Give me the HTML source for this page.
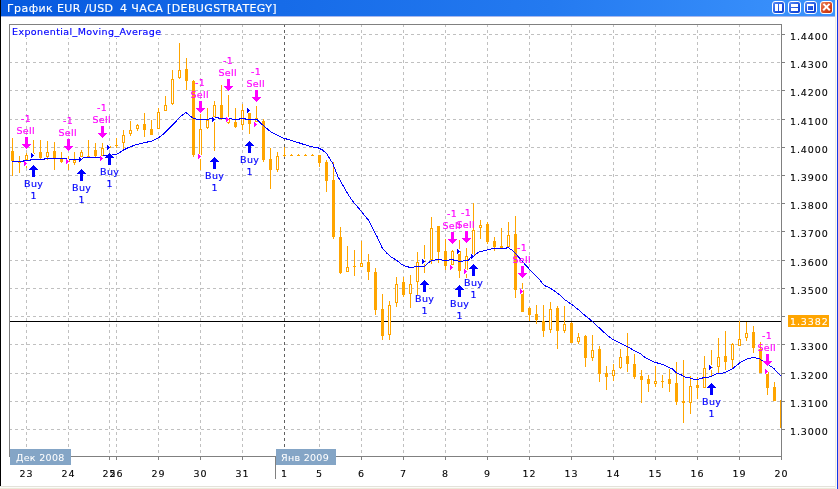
<!DOCTYPE html>
<html><head><meta charset="utf-8"><style>
html,body{margin:0;padding:0;}
body{width:838px;height:489px;position:relative;overflow:hidden;background:#fff;}
#lb{position:absolute;left:0;top:0;width:1px;height:486px;background:#000;}
#tb{position:absolute;left:1px;top:0;width:834px;height:16px;background:linear-gradient(to right,#0659DF 0px,#166BE8 280px,#247AF0 550px,#378EFA 770px,#3C93FC 834px);}
#tbb{position:absolute;left:1px;top:16px;width:834px;height:1px;background:#A9B8EC;}
.btn{position:absolute;top:1px;width:11px;height:11px;border:1px solid #fff;border-radius:3px;background:linear-gradient(135deg,#5C8EF4,#1C52E0 60%,#0A3ACC);}
.btn i{position:absolute;background:#fff;display:block;}
#rb1{position:absolute;left:835px;top:0;width:1px;height:489px;background:#EFEDE2;}
#rb2{position:absolute;left:836px;top:0;width:1px;height:489px;background:#FBFBF8;}
#rb3{position:absolute;left:837px;top:0;width:1px;height:489px;background:#1238E8;}
#bb1{position:absolute;left:0;top:486px;width:835px;height:1px;background:#E4E2DA;}
#bb2{position:absolute;left:0;top:487px;width:835px;height:1px;background:#FAFAF7;}
#bb3{position:absolute;left:0;top:488px;width:835px;height:1px;background:#ECE9D8;}
svg{position:absolute;left:0;top:0;}
svg text{font-family:"DejaVu Sans",sans-serif;font-size:9.5px;letter-spacing:0.4px;stroke-width:0.15px;}
svg .tt text{font-size:11px;}
svg text.num{font-size:9.5px;letter-spacing:0.9px;stroke-width:0.1px;}
svg text.mon{letter-spacing:0.3px;stroke-width:0.05px;}
</style></head><body>
<div id="lb"></div>
<div id="tb"></div><div id="tbb"></div>
<div class="btn" style="left:772px"><i style="left:2px;top:2px;width:3px;height:7px"></i><i style="left:6px;top:2px;width:3px;height:7px"></i></div><div class="btn" style="left:788px"><i style="left:2px;top:2px;width:7px;height:3px"></i><i style="left:2px;top:6px;width:7px;height:3px"></i></div><div class="btn" style="left:804px"><i style="left:2px;top:2px;width:7px;height:7px;background:none;border:1px solid #fff;box-sizing:border-box;border-width:2px 1px 1px 1px"></i></div><div class="btn" style="left:820px;background:linear-gradient(135deg,#E8825C,#D8461E 60%,#C0300A)"><i style="left:1px;top:4.2px;width:9px;height:2.4px;transform:rotate(45deg)"></i><i style="left:1px;top:4.2px;width:9px;height:2.4px;transform:rotate(-45deg)"></i></div>
<div id="rb1"></div><div id="rb2"></div><div id="rb3"></div>
<div id="bb1"></div><div id="bb2"></div><div id="bb3"></div>
<svg width="838" height="489" viewBox="0 0 838 489" shape-rendering="crispEdges">
<line x1="9" y1="34.5" x2="781" y2="34.5" stroke="#C0C0C0" stroke-dasharray="3 3"/>
<line x1="9" y1="62.5" x2="781" y2="62.5" stroke="#C0C0C0" stroke-dasharray="3 3"/>
<line x1="9" y1="90.5" x2="781" y2="90.5" stroke="#C0C0C0" stroke-dasharray="3 3"/>
<line x1="9" y1="119.5" x2="781" y2="119.5" stroke="#C0C0C0" stroke-dasharray="3 3"/>
<line x1="9" y1="147.5" x2="781" y2="147.5" stroke="#C0C0C0" stroke-dasharray="3 3"/>
<line x1="9" y1="175.5" x2="781" y2="175.5" stroke="#C0C0C0" stroke-dasharray="3 3"/>
<line x1="9" y1="203.5" x2="781" y2="203.5" stroke="#C0C0C0" stroke-dasharray="3 3"/>
<line x1="9" y1="231.5" x2="781" y2="231.5" stroke="#C0C0C0" stroke-dasharray="3 3"/>
<line x1="9" y1="260.5" x2="781" y2="260.5" stroke="#C0C0C0" stroke-dasharray="3 3"/>
<line x1="9" y1="288.5" x2="781" y2="288.5" stroke="#C0C0C0" stroke-dasharray="3 3"/>
<line x1="9" y1="316.5" x2="781" y2="316.5" stroke="#C0C0C0" stroke-dasharray="3 3"/>
<line x1="9" y1="344.5" x2="781" y2="344.5" stroke="#C0C0C0" stroke-dasharray="3 3"/>
<line x1="9" y1="373.5" x2="781" y2="373.5" stroke="#C0C0C0" stroke-dasharray="3 3"/>
<line x1="9" y1="401.5" x2="781" y2="401.5" stroke="#C0C0C0" stroke-dasharray="3 3"/>
<line x1="9" y1="429.5" x2="781" y2="429.5" stroke="#C0C0C0" stroke-dasharray="3 3"/>
<line x1="26.5" y1="24" x2="26.5" y2="456" stroke="#C0C0C0" stroke-dasharray="3 3"/>
<line x1="68.5" y1="24" x2="68.5" y2="456" stroke="#C0C0C0" stroke-dasharray="3 3"/>
<line x1="109.5" y1="24" x2="109.5" y2="456" stroke="#C0C0C0" stroke-dasharray="3 3"/>
<line x1="116.5" y1="24" x2="116.5" y2="456" stroke="#C0C0C0" stroke-dasharray="3 3"/>
<line x1="158.5" y1="24" x2="158.5" y2="456" stroke="#C0C0C0" stroke-dasharray="3 3"/>
<line x1="200.5" y1="24" x2="200.5" y2="456" stroke="#C0C0C0" stroke-dasharray="3 3"/>
<line x1="242.5" y1="24" x2="242.5" y2="456" stroke="#C0C0C0" stroke-dasharray="3 3"/>
<line x1="284.5" y1="24" x2="284.5" y2="456" stroke="#606060" stroke-dasharray="3 3"/>
<line x1="319.5" y1="24" x2="319.5" y2="456" stroke="#C0C0C0" stroke-dasharray="3 3"/>
<line x1="361.5" y1="24" x2="361.5" y2="456" stroke="#C0C0C0" stroke-dasharray="3 3"/>
<line x1="403.5" y1="24" x2="403.5" y2="456" stroke="#C0C0C0" stroke-dasharray="3 3"/>
<line x1="445.5" y1="24" x2="445.5" y2="456" stroke="#C0C0C0" stroke-dasharray="3 3"/>
<line x1="487.5" y1="24" x2="487.5" y2="456" stroke="#C0C0C0" stroke-dasharray="3 3"/>
<line x1="529.5" y1="24" x2="529.5" y2="456" stroke="#C0C0C0" stroke-dasharray="3 3"/>
<line x1="571.5" y1="24" x2="571.5" y2="456" stroke="#C0C0C0" stroke-dasharray="3 3"/>
<line x1="613.5" y1="24" x2="613.5" y2="456" stroke="#C0C0C0" stroke-dasharray="3 3"/>
<line x1="655.5" y1="24" x2="655.5" y2="456" stroke="#C0C0C0" stroke-dasharray="3 3"/>
<line x1="697.5" y1="24" x2="697.5" y2="456" stroke="#C0C0C0" stroke-dasharray="3 3"/>
<line x1="739.5" y1="24" x2="739.5" y2="456" stroke="#C0C0C0" stroke-dasharray="3 3"/>
<line x1="781.5" y1="24" x2="781.5" y2="456" stroke="#C0C0C0" stroke-dasharray="3 3"/>
<rect x="10" y="321" width="771" height="1" fill="#000"/>
<clipPath id="cp"><rect x="10" y="25" width="771" height="431"/></clipPath>
<g fill="#FFA500" clip-path="url(#cp)"><rect x="12" y="138" width="1" height="38"/><rect x="11" y="151" width="3" height="10"/><rect x="19" y="156" width="1" height="17"/><rect x="18" y="162" width="3" height="1"/><rect x="26" y="153" width="1" height="15"/><rect x="25" y="155" width="3" height="5"/><rect x="26" y="156" width="1" height="3" fill="#fff"/><rect x="33" y="140" width="1" height="14"/><rect x="32" y="153" width="3" height="1"/><rect x="40" y="140" width="1" height="20"/><rect x="39" y="152" width="3" height="6"/><rect x="47" y="141" width="1" height="19"/><rect x="46" y="152" width="3" height="5"/><rect x="47" y="153" width="1" height="3" fill="#fff"/><rect x="54" y="142" width="1" height="28"/><rect x="53" y="151" width="3" height="7"/><rect x="61" y="152" width="1" height="11"/><rect x="60" y="158" width="3" height="4"/><rect x="68" y="156" width="1" height="14"/><rect x="67" y="160" width="3" height="2"/><rect x="74" y="152" width="1" height="13"/><rect x="73" y="160" width="3" height="3"/><rect x="74" y="161" width="1" height="1" fill="#fff"/><rect x="81" y="150" width="1" height="10"/><rect x="80" y="152" width="3" height="5"/><rect x="81" y="153" width="1" height="3" fill="#fff"/><rect x="88" y="140" width="1" height="17"/><rect x="87" y="156" width="3" height="1"/><rect x="95" y="143" width="1" height="15"/><rect x="94" y="150" width="3" height="6"/><rect x="102" y="143" width="1" height="15"/><rect x="101" y="148" width="3" height="8"/><rect x="102" y="149" width="1" height="6" fill="#fff"/><rect x="109" y="146" width="1" height="2"/><rect x="108" y="146" width="3" height="2"/><rect x="116" y="138" width="1" height="10"/><rect x="115" y="145" width="3" height="1"/><rect x="123" y="130" width="1" height="20"/><rect x="122" y="135" width="3" height="8"/><rect x="123" y="136" width="1" height="6" fill="#fff"/><rect x="130" y="121" width="1" height="15"/><rect x="129" y="130" width="3" height="4"/><rect x="130" y="131" width="1" height="2" fill="#fff"/><rect x="137" y="124" width="1" height="7"/><rect x="136" y="125" width="3" height="4"/><rect x="137" y="126" width="1" height="2" fill="#fff"/><rect x="144" y="113" width="1" height="24"/><rect x="143" y="124" width="3" height="6"/><rect x="151" y="120" width="1" height="15"/><rect x="150" y="129" width="3" height="6"/><rect x="158" y="108" width="1" height="21"/><rect x="157" y="112" width="3" height="17"/><rect x="158" y="113" width="1" height="15" fill="#fff"/><rect x="165" y="96" width="1" height="15"/><rect x="164" y="105" width="3" height="6"/><rect x="165" y="106" width="1" height="4" fill="#fff"/><rect x="172" y="70" width="1" height="35"/><rect x="171" y="79" width="3" height="25"/><rect x="172" y="80" width="1" height="23" fill="#fff"/><rect x="179" y="43" width="1" height="36"/><rect x="178" y="70" width="3" height="8"/><rect x="179" y="71" width="1" height="6" fill="#fff"/><rect x="186" y="58" width="1" height="32"/><rect x="185" y="69" width="3" height="12"/><rect x="193" y="80" width="1" height="77"/><rect x="192" y="81" width="3" height="74"/><rect x="200" y="114" width="1" height="56"/><rect x="199" y="129" width="3" height="26"/><rect x="200" y="130" width="1" height="24" fill="#fff"/><rect x="207" y="108" width="1" height="21"/><rect x="206" y="120" width="3" height="8"/><rect x="207" y="121" width="1" height="6" fill="#fff"/><rect x="214" y="101" width="1" height="50"/><rect x="213" y="105" width="3" height="12"/><rect x="214" y="106" width="1" height="10" fill="#fff"/><rect x="221" y="85" width="1" height="35"/><rect x="220" y="105" width="3" height="14"/><rect x="228" y="95" width="1" height="29"/><rect x="227" y="118" width="3" height="5"/><rect x="228" y="119" width="1" height="3" fill="#fff"/><rect x="235" y="108" width="1" height="20"/><rect x="234" y="122" width="3" height="5"/><rect x="242" y="104" width="1" height="26"/><rect x="241" y="110" width="3" height="15"/><rect x="242" y="111" width="1" height="13" fill="#fff"/><rect x="249" y="108" width="1" height="26"/><rect x="248" y="113" width="3" height="11"/><rect x="256" y="106" width="1" height="16"/><rect x="255" y="118" width="3" height="4"/><rect x="256" y="119" width="1" height="2" fill="#fff"/><rect x="263" y="119" width="1" height="43"/><rect x="262" y="121" width="3" height="39"/><rect x="270" y="148" width="1" height="41"/><rect x="269" y="159" width="3" height="11"/><rect x="277" y="152" width="1" height="20"/><rect x="276" y="156" width="3" height="14"/><rect x="277" y="157" width="1" height="12" fill="#fff"/><rect x="284" y="147" width="1" height="10"/><rect x="283" y="155" width="3" height="1"/><rect x="291" y="154" width="1" height="2"/><rect x="290" y="155" width="3" height="1"/><rect x="298" y="154" width="1" height="2"/><rect x="297" y="155" width="3" height="1"/><rect x="305" y="154" width="1" height="2"/><rect x="304" y="155" width="3" height="1"/><rect x="312" y="154" width="1" height="2"/><rect x="311" y="155" width="3" height="1"/><rect x="319" y="155" width="1" height="12"/><rect x="318" y="155" width="3" height="8"/><rect x="326" y="160" width="1" height="32"/><rect x="325" y="162" width="3" height="19"/><rect x="333" y="162" width="1" height="77"/><rect x="332" y="180" width="3" height="57"/><rect x="340" y="227" width="1" height="47"/><rect x="339" y="237" width="3" height="36"/><rect x="347" y="246" width="1" height="26"/><rect x="346" y="267" width="3" height="5"/><rect x="347" y="268" width="1" height="3" fill="#fff"/><rect x="354" y="250" width="1" height="26"/><rect x="353" y="266" width="3" height="1"/><rect x="361" y="241" width="1" height="26"/><rect x="360" y="263" width="3" height="4"/><rect x="361" y="264" width="1" height="2" fill="#fff"/><rect x="368" y="254" width="1" height="26"/><rect x="367" y="262" width="3" height="10"/><rect x="375" y="268" width="1" height="47"/><rect x="374" y="272" width="3" height="38"/><rect x="382" y="294" width="1" height="46"/><rect x="381" y="309" width="3" height="27"/><rect x="389" y="301" width="1" height="39"/><rect x="388" y="305" width="3" height="30"/><rect x="389" y="306" width="1" height="28" fill="#fff"/><rect x="396" y="277" width="1" height="30"/><rect x="395" y="284" width="3" height="19"/><rect x="396" y="285" width="1" height="17" fill="#fff"/><rect x="403" y="277" width="1" height="20"/><rect x="402" y="282" width="3" height="13"/><rect x="410" y="275" width="1" height="33"/><rect x="409" y="284" width="3" height="10"/><rect x="410" y="285" width="1" height="8" fill="#fff"/><rect x="417" y="252" width="1" height="43"/><rect x="416" y="262" width="3" height="20"/><rect x="417" y="263" width="1" height="18" fill="#fff"/><rect x="424" y="245" width="1" height="28"/><rect x="423" y="261" width="3" height="1"/><rect x="431" y="217" width="1" height="47"/><rect x="430" y="228" width="3" height="32"/><rect x="431" y="229" width="1" height="30" fill="#fff"/><rect x="438" y="226" width="1" height="37"/><rect x="437" y="226" width="3" height="26"/><rect x="445" y="239" width="1" height="31"/><rect x="444" y="251" width="3" height="15"/><rect x="452" y="250" width="1" height="16"/><rect x="451" y="251" width="3" height="14"/><rect x="452" y="252" width="1" height="12" fill="#fff"/><rect x="459" y="240" width="1" height="38"/><rect x="458" y="251" width="3" height="20"/><rect x="466" y="248" width="1" height="30"/><rect x="465" y="256" width="3" height="14"/><rect x="466" y="257" width="1" height="12" fill="#fff"/><rect x="473" y="203" width="1" height="53"/><rect x="472" y="230" width="3" height="26"/><rect x="473" y="231" width="1" height="24" fill="#fff"/><rect x="480" y="220" width="1" height="19"/><rect x="479" y="225" width="3" height="3"/><rect x="480" y="226" width="1" height="1" fill="#fff"/><rect x="487" y="222" width="1" height="22"/><rect x="486" y="224" width="3" height="18"/><rect x="494" y="237" width="1" height="14"/><rect x="493" y="241" width="3" height="6"/><rect x="501" y="228" width="1" height="21"/><rect x="500" y="246" width="3" height="2"/><rect x="508" y="222" width="1" height="26"/><rect x="507" y="235" width="3" height="12"/><rect x="508" y="236" width="1" height="10" fill="#fff"/><rect x="515" y="216" width="1" height="82"/><rect x="514" y="234" width="3" height="56"/><rect x="522" y="283" width="1" height="29"/><rect x="521" y="290" width="3" height="22"/><rect x="529" y="307" width="1" height="14"/><rect x="528" y="308" width="3" height="7"/><rect x="536" y="305" width="1" height="19"/><rect x="535" y="314" width="3" height="6"/><rect x="543" y="305" width="1" height="32"/><rect x="542" y="321" width="3" height="10"/><rect x="550" y="302" width="1" height="31"/><rect x="549" y="309" width="3" height="21"/><rect x="550" y="310" width="1" height="19" fill="#fff"/><rect x="557" y="306" width="1" height="43"/><rect x="556" y="308" width="3" height="23"/><rect x="564" y="306" width="1" height="27"/><rect x="563" y="324" width="3" height="7"/><rect x="564" y="325" width="1" height="5" fill="#fff"/><rect x="571" y="322" width="1" height="21"/><rect x="570" y="323" width="3" height="20"/><rect x="578" y="333" width="1" height="11"/><rect x="577" y="337" width="3" height="5"/><rect x="578" y="338" width="1" height="3" fill="#fff"/><rect x="585" y="335" width="1" height="32"/><rect x="584" y="336" width="3" height="22"/><rect x="592" y="335" width="1" height="26"/><rect x="591" y="350" width="3" height="8"/><rect x="592" y="351" width="1" height="6" fill="#fff"/><rect x="599" y="346" width="1" height="36"/><rect x="598" y="349" width="3" height="25"/><rect x="606" y="366" width="1" height="24"/><rect x="605" y="373" width="3" height="4"/><rect x="613" y="364" width="1" height="17"/><rect x="612" y="370" width="3" height="6"/><rect x="613" y="371" width="1" height="4" fill="#fff"/><rect x="620" y="349" width="1" height="20"/><rect x="619" y="357" width="3" height="11"/><rect x="620" y="358" width="1" height="9" fill="#fff"/><rect x="627" y="333" width="1" height="39"/><rect x="626" y="356" width="3" height="8"/><rect x="634" y="354" width="1" height="25"/><rect x="633" y="364" width="3" height="13"/><rect x="641" y="370" width="1" height="33"/><rect x="640" y="376" width="3" height="4"/><rect x="648" y="375" width="1" height="17"/><rect x="647" y="379" width="3" height="5"/><rect x="655" y="366" width="1" height="21"/><rect x="654" y="381" width="3" height="3"/><rect x="655" y="382" width="1" height="1" fill="#fff"/><rect x="662" y="375" width="1" height="13"/><rect x="661" y="381" width="3" height="1"/><rect x="669" y="369" width="1" height="23"/><rect x="668" y="379" width="3" height="5"/><rect x="676" y="362" width="1" height="43"/><rect x="675" y="383" width="3" height="19"/><rect x="683" y="360" width="1" height="63"/><rect x="682" y="401" width="3" height="2"/><rect x="690" y="376" width="1" height="38"/><rect x="689" y="386" width="3" height="17"/><rect x="690" y="387" width="1" height="15" fill="#fff"/><rect x="697" y="377" width="1" height="22"/><rect x="696" y="385" width="3" height="3"/><rect x="704" y="356" width="1" height="32"/><rect x="703" y="368" width="3" height="20"/><rect x="704" y="369" width="1" height="18" fill="#fff"/><rect x="711" y="350" width="1" height="26"/><rect x="710" y="367" width="3" height="1"/><rect x="718" y="338" width="1" height="35"/><rect x="717" y="357" width="3" height="10"/><rect x="718" y="358" width="1" height="8" fill="#fff"/><rect x="725" y="331" width="1" height="39"/><rect x="724" y="356" width="3" height="6"/><rect x="732" y="343" width="1" height="25"/><rect x="731" y="344" width="3" height="16"/><rect x="732" y="345" width="1" height="14" fill="#fff"/><rect x="739" y="321" width="1" height="25"/><rect x="738" y="339" width="3" height="7"/><rect x="739" y="340" width="1" height="5" fill="#fff"/><rect x="746" y="322" width="1" height="19"/><rect x="745" y="333" width="3" height="5"/><rect x="746" y="334" width="1" height="3" fill="#fff"/><rect x="753" y="326" width="1" height="27"/><rect x="752" y="332" width="3" height="16"/><rect x="760" y="342" width="1" height="31"/><rect x="759" y="349" width="3" height="24"/><rect x="767" y="371" width="1" height="24"/><rect x="766" y="372" width="3" height="16"/><rect x="774" y="382" width="1" height="19"/><rect x="773" y="387" width="3" height="14"/><rect x="781" y="400" width="1" height="28"/><rect x="780" y="400" width="3" height="28"/></g>
<polyline points="12.0,161.5 23.0,161.5 23.5,160.5 30.0,160.5 30.5,159.5 44.0,159.5 44.5,158.5 64.8,158.5 69.4,159.5 78.4,159.5 85.0,157.5 100.0,157.5 103.4,156.0 105.0,155.5 111.8,155.0 117.6,153.9 123.5,150.0 128.5,147.5 135.2,145.0 136.7,144.5 142.5,143.2 151.7,141.0 157.6,138.4 164.2,133.4 168.4,129.2 174.3,123.4 180.1,116.7 186.0,112.5 190.1,115.9 193.5,118.4 197.7,119.5 208.8,119.5 209.3,118.5 214.5,118.5 215.0,117.5 218.0,117.5 218.5,118.5 231.7,118.5 232.2,119.5 239.3,119.5 239.8,118.5 245.5,118.5 246.0,119.5 256.8,119.5 265.0,127.1 271.3,132.1 277.5,135.4 284.2,138.4 290.1,140.0 296.7,142.1 304.3,144.6 311.8,146.7 318.5,148.0 322.6,150.1 326.8,153.8 329.3,158.0 332.7,163.4 337.8,176.4 347.6,193.6 352.5,200.9 360.7,210.7 368.9,220.6 373.0,228.7 377.4,237.4 382.0,247.5 386.6,253.0 391.2,257.1 396.7,260.4 401.3,264.0 405.9,266.3 409.6,267.3 413.2,267.3 415.1,266.5 424.3,266.5 427.0,264.0 431.2,260.8 435.3,259.9 436.0,259.5 441.8,259.5 442.3,260.5 448.5,260.5 449.4,259.5 453.5,259.5 454.0,260.5 457.7,260.5 458.2,261.5 462.7,261.5 463.2,260.5 468.6,260.5 469.4,258.5 473.6,256.0 478.6,252.2 484.5,250.5 491.1,249.0 502.8,248.7 506.0,248.2 508.0,247.4 512.3,250.4 516.0,254.1 520.9,259.7 525.8,265.2 531.9,271.9 539.3,279.3 544.2,285.5 549.1,287.3 555.3,291.6 560.2,295.3 565.4,300.1 572.1,304.8 577.5,308.9 584.3,314.9 592.4,321.4 600.5,329.1 607.2,335.2 612.6,339.5 619.4,342.6 627.5,346.7 635.6,351.4 640.8,354.1 646.5,358.4 651.3,360.8 655.1,362.4 661.8,364.1 668.5,367.4 672.3,368.9 676.1,372.7 680.9,374.6 684.7,377.0 689.5,377.9 694.2,379.4 698.1,379.4 702.8,377.9 708.6,377.0 712.6,375.8 717.1,373.5 722.0,373.2 725.4,372.2 732.0,369.2 739.6,363.0 747.1,358.8 752.9,357.5 758.8,358.4 762.1,360.5 768.8,365.0 773.8,368.4 778.0,373.0 781.0,376.3" fill="none" stroke="#0000FF" stroke-width="1"/>
<rect x="31" y="153" width="3" height="5" fill="#fff"/><path d="M31 153h1v1h1v1h1v1h-1v1h-1v1h-1z" fill="#0000FF"/>
<rect x="79" y="157" width="3" height="5" fill="#fff"/><path d="M79 157h1v1h1v1h1v1h-1v1h-1v1h-1z" fill="#0000FF"/>
<rect x="107" y="145" width="3" height="5" fill="#fff"/><path d="M107 145h1v1h1v1h1v1h-1v1h-1v1h-1z" fill="#0000FF"/>
<rect x="212" y="117" width="3" height="5" fill="#fff"/><path d="M212 117h1v1h1v1h1v1h-1v1h-1v1h-1z" fill="#0000FF"/>
<rect x="247" y="108" width="3" height="5" fill="#fff"/><path d="M247 108h1v1h1v1h1v1h-1v1h-1v1h-1z" fill="#0000FF"/>
<rect x="422" y="259" width="3" height="5" fill="#fff"/><path d="M422 259h1v1h1v1h1v1h-1v1h-1v1h-1z" fill="#0000FF"/>
<rect x="457" y="249" width="3" height="5" fill="#fff"/><path d="M457 249h1v1h1v1h1v1h-1v1h-1v1h-1z" fill="#0000FF"/>
<rect x="471" y="254" width="3" height="5" fill="#fff"/><path d="M471 254h1v1h1v1h1v1h-1v1h-1v1h-1z" fill="#0000FF"/>
<rect x="709" y="365" width="3" height="5" fill="#fff"/><path d="M709 365h1v1h1v1h1v1h-1v1h-1v1h-1z" fill="#0000FF"/>
<rect x="24" y="161" width="3" height="5" fill="#fff"/><path d="M24 161h1v1h1v1h1v1h-1v1h-1v1h-1z" fill="#FF00FF"/>
<rect x="66" y="159" width="3" height="5" fill="#fff"/><path d="M66 159h1v1h1v1h1v1h-1v1h-1v1h-1z" fill="#FF00FF"/>
<rect x="100" y="156" width="3" height="5" fill="#fff"/><path d="M100 156h1v1h1v1h1v1h-1v1h-1v1h-1z" fill="#FF00FF"/>
<rect x="198" y="154" width="3" height="5" fill="#fff"/><path d="M198 154h1v1h1v1h1v1h-1v1h-1v1h-1z" fill="#FF00FF"/>
<rect x="226" y="117" width="3" height="5" fill="#fff"/><path d="M226 117h1v1h1v1h1v1h-1v1h-1v1h-1z" fill="#FF00FF"/>
<rect x="254" y="122" width="3" height="5" fill="#fff"/><path d="M254 122h1v1h1v1h1v1h-1v1h-1v1h-1z" fill="#FF00FF"/>
<rect x="450" y="265" width="3" height="5" fill="#fff"/><path d="M450 265h1v1h1v1h1v1h-1v1h-1v1h-1z" fill="#FF00FF"/>
<rect x="464" y="269" width="3" height="5" fill="#fff"/><path d="M464 269h1v1h1v1h1v1h-1v1h-1v1h-1z" fill="#FF00FF"/>
<rect x="520" y="289" width="3" height="5" fill="#fff"/><path d="M520 289h1v1h1v1h1v1h-1v1h-1v1h-1z" fill="#FF00FF"/>
<rect x="765" y="369" width="3" height="5" fill="#fff"/><path d="M765 369h1v1h1v1h1v1h-1v1h-1v1h-1z" fill="#FF00FF"/>
<rect x="25" y="137" width="3" height="7" fill="#FF00FF"/>
<polygon points="22.0,144 31.0,144 26.5,149" fill="#FF00FF"/>
<text x="25.8" y="134" text-anchor="middle" fill="#FF00FF" stroke="#FF00FF">Sell</text>
<text x="26.2" y="122" text-anchor="middle" fill="#FF00FF" stroke="#FF00FF">-1</text>
<rect x="67" y="139" width="3" height="7" fill="#FF00FF"/>
<polygon points="64.0,146 73.0,146 68.5,151" fill="#FF00FF"/>
<text x="67.8" y="136" text-anchor="middle" fill="#FF00FF" stroke="#FF00FF">Sell</text>
<text x="68.2" y="124" text-anchor="middle" fill="#FF00FF" stroke="#FF00FF">-1</text>
<rect x="101" y="126" width="3" height="7" fill="#FF00FF"/>
<polygon points="98.0,133 107.0,133 102.5,138" fill="#FF00FF"/>
<text x="101.8" y="123" text-anchor="middle" fill="#FF00FF" stroke="#FF00FF">Sell</text>
<text x="102.2" y="111" text-anchor="middle" fill="#FF00FF" stroke="#FF00FF">-1</text>
<rect x="199" y="101" width="3" height="7" fill="#FF00FF"/>
<polygon points="196.0,108 205.0,108 200.5,113" fill="#FF00FF"/>
<text x="199.8" y="98" text-anchor="middle" fill="#FF00FF" stroke="#FF00FF">Sell</text>
<text x="200.2" y="86" text-anchor="middle" fill="#FF00FF" stroke="#FF00FF">-1</text>
<rect x="227" y="79" width="3" height="7" fill="#FF00FF"/>
<polygon points="224.0,86 233.0,86 228.5,91" fill="#FF00FF"/>
<text x="227.8" y="76" text-anchor="middle" fill="#FF00FF" stroke="#FF00FF">Sell</text>
<text x="228.2" y="64" text-anchor="middle" fill="#FF00FF" stroke="#FF00FF">-1</text>
<rect x="255" y="90" width="3" height="7" fill="#FF00FF"/>
<polygon points="252.0,97 261.0,97 256.5,102" fill="#FF00FF"/>
<text x="255.8" y="87" text-anchor="middle" fill="#FF00FF" stroke="#FF00FF">Sell</text>
<text x="256.2" y="75" text-anchor="middle" fill="#FF00FF" stroke="#FF00FF">-1</text>
<rect x="451" y="232" width="3" height="7" fill="#FF00FF"/>
<polygon points="448.0,239 457.0,239 452.5,244" fill="#FF00FF"/>
<text x="451.8" y="229" text-anchor="middle" fill="#FF00FF" stroke="#FF00FF">Sell</text>
<text x="452.2" y="217" text-anchor="middle" fill="#FF00FF" stroke="#FF00FF">-1</text>
<rect x="465" y="231" width="3" height="7" fill="#FF00FF"/>
<polygon points="462.0,238 471.0,238 466.5,243" fill="#FF00FF"/>
<text x="465.8" y="228" text-anchor="middle" fill="#FF00FF" stroke="#FF00FF">Sell</text>
<text x="466.2" y="216" text-anchor="middle" fill="#FF00FF" stroke="#FF00FF">-1</text>
<rect x="521" y="266" width="3" height="7" fill="#FF00FF"/>
<polygon points="518.0,273 527.0,273 522.5,278" fill="#FF00FF"/>
<text x="521.8" y="263" text-anchor="middle" fill="#FF00FF" stroke="#FF00FF">Sell</text>
<text x="522.2" y="251" text-anchor="middle" fill="#FF00FF" stroke="#FF00FF">-1</text>
<rect x="766" y="354" width="3" height="7" fill="#FF00FF"/>
<polygon points="763.0,361 772.0,361 767.5,366" fill="#FF00FF"/>
<text x="766.8" y="351" text-anchor="middle" fill="#FF00FF" stroke="#FF00FF">Sell</text>
<text x="767.2" y="339" text-anchor="middle" fill="#FF00FF" stroke="#FF00FF">-1</text>
<polygon points="33.5,165 29.0,170 38.0,170" fill="#0000FF"/>
<rect x="32" y="170" width="3" height="7" fill="#0000FF"/>
<text x="33.7" y="187" text-anchor="middle" fill="#0000FF" stroke="#0000FF">Buy</text>
<text x="33.7" y="199" text-anchor="middle" fill="#0000FF" stroke="#0000FF">1</text>
<polygon points="81.5,169 77.0,174 86.0,174" fill="#0000FF"/>
<rect x="80" y="174" width="3" height="7" fill="#0000FF"/>
<text x="81.7" y="191" text-anchor="middle" fill="#0000FF" stroke="#0000FF">Buy</text>
<text x="81.7" y="203" text-anchor="middle" fill="#0000FF" stroke="#0000FF">1</text>
<polygon points="109.5,153 105.0,158 114.0,158" fill="#0000FF"/>
<rect x="108" y="158" width="3" height="7" fill="#0000FF"/>
<text x="109.7" y="175" text-anchor="middle" fill="#0000FF" stroke="#0000FF">Buy</text>
<text x="109.7" y="187" text-anchor="middle" fill="#0000FF" stroke="#0000FF">1</text>
<polygon points="214.5,157 210.0,162 219.0,162" fill="#0000FF"/>
<rect x="213" y="162" width="3" height="7" fill="#0000FF"/>
<text x="214.7" y="179" text-anchor="middle" fill="#0000FF" stroke="#0000FF">Buy</text>
<text x="214.7" y="191" text-anchor="middle" fill="#0000FF" stroke="#0000FF">1</text>
<polygon points="249.5,141 245.0,146 254.0,146" fill="#0000FF"/>
<rect x="248" y="146" width="3" height="7" fill="#0000FF"/>
<text x="249.7" y="163" text-anchor="middle" fill="#0000FF" stroke="#0000FF">Buy</text>
<text x="249.7" y="175" text-anchor="middle" fill="#0000FF" stroke="#0000FF">1</text>
<polygon points="424.5,280 420.0,285 429.0,285" fill="#0000FF"/>
<rect x="423" y="285" width="3" height="7" fill="#0000FF"/>
<text x="424.7" y="302" text-anchor="middle" fill="#0000FF" stroke="#0000FF">Buy</text>
<text x="424.7" y="314" text-anchor="middle" fill="#0000FF" stroke="#0000FF">1</text>
<polygon points="459.5,285 455.0,290 464.0,290" fill="#0000FF"/>
<rect x="458" y="290" width="3" height="7" fill="#0000FF"/>
<text x="459.7" y="307" text-anchor="middle" fill="#0000FF" stroke="#0000FF">Buy</text>
<text x="459.7" y="319" text-anchor="middle" fill="#0000FF" stroke="#0000FF">1</text>
<polygon points="473.5,264 469.0,269 478.0,269" fill="#0000FF"/>
<rect x="472" y="269" width="3" height="7" fill="#0000FF"/>
<text x="473.7" y="286" text-anchor="middle" fill="#0000FF" stroke="#0000FF">Buy</text>
<text x="473.7" y="298" text-anchor="middle" fill="#0000FF" stroke="#0000FF">1</text>
<polygon points="711.5,383 707.0,388 716.0,388" fill="#0000FF"/>
<rect x="710" y="388" width="3" height="7" fill="#0000FF"/>
<text x="711.7" y="405" text-anchor="middle" fill="#0000FF" stroke="#0000FF">Buy</text>
<text x="711.7" y="417" text-anchor="middle" fill="#0000FF" stroke="#0000FF">1</text>
<rect x="9.5" y="24.5" width="772" height="432" fill="none" stroke="#808080"/>
<rect x="10" y="25" width="151" height="13" fill="#fff"/>
<text x="12" y="35" fill="#0000FF" stroke="#0000FF">Exponential_Moving_Average</text>
<rect x="782" y="34" width="3" height="1" fill="#808080"/>
<text x="790" y="40" class="num" fill="#000" stroke="#000">1.4400</text>
<rect x="782" y="62" width="3" height="1" fill="#808080"/>
<text x="790" y="68" class="num" fill="#000" stroke="#000">1.4300</text>
<rect x="782" y="90" width="3" height="1" fill="#808080"/>
<text x="790" y="96" class="num" fill="#000" stroke="#000">1.4200</text>
<rect x="782" y="119" width="3" height="1" fill="#808080"/>
<text x="790" y="125" class="num" fill="#000" stroke="#000">1.4100</text>
<rect x="782" y="147" width="3" height="1" fill="#808080"/>
<text x="790" y="153" class="num" fill="#000" stroke="#000">1.4000</text>
<rect x="782" y="175" width="3" height="1" fill="#808080"/>
<text x="790" y="181" class="num" fill="#000" stroke="#000">1.3900</text>
<rect x="782" y="203" width="3" height="1" fill="#808080"/>
<text x="790" y="209" class="num" fill="#000" stroke="#000">1.3800</text>
<rect x="782" y="231" width="3" height="1" fill="#808080"/>
<text x="790" y="237" class="num" fill="#000" stroke="#000">1.3700</text>
<rect x="782" y="260" width="3" height="1" fill="#808080"/>
<text x="790" y="266" class="num" fill="#000" stroke="#000">1.3600</text>
<rect x="782" y="288" width="3" height="1" fill="#808080"/>
<text x="790" y="294" class="num" fill="#000" stroke="#000">1.3500</text>
<rect x="782" y="316" width="3" height="1" fill="#808080"/>
<rect x="782" y="344" width="3" height="1" fill="#808080"/>
<text x="790" y="350" class="num" fill="#000" stroke="#000">1.3300</text>
<rect x="782" y="373" width="3" height="1" fill="#808080"/>
<text x="790" y="379" class="num" fill="#000" stroke="#000">1.3200</text>
<rect x="782" y="401" width="3" height="1" fill="#808080"/>
<text x="790" y="407" class="num" fill="#000" stroke="#000">1.3100</text>
<rect x="782" y="429" width="3" height="1" fill="#808080"/>
<text x="790" y="435" class="num" fill="#000" stroke="#000">1.3000</text>
<rect x="788" y="315" width="41" height="12" fill="#FFA500"/>
<text x="790" y="325" class="num" fill="#fff" stroke="#fff">1.3382</text>
<rect x="26" y="457" width="1" height="3" fill="#808080"/>
<text x="26.5" y="477" text-anchor="middle" class="num" fill="#000" stroke="#000">23</text>
<rect x="68" y="457" width="1" height="3" fill="#808080"/>
<text x="68.5" y="477" text-anchor="middle" class="num" fill="#000" stroke="#000">24</text>
<rect x="109" y="457" width="1" height="3" fill="#808080"/>
<text x="109.5" y="477" text-anchor="middle" class="num" fill="#000" stroke="#000">25</text>
<rect x="116" y="457" width="1" height="3" fill="#808080"/>
<text x="116.5" y="477" text-anchor="middle" class="num" fill="#000" stroke="#000">26</text>
<rect x="158" y="457" width="1" height="3" fill="#808080"/>
<text x="158.5" y="477" text-anchor="middle" class="num" fill="#000" stroke="#000">29</text>
<rect x="200" y="457" width="1" height="3" fill="#808080"/>
<text x="200.5" y="477" text-anchor="middle" class="num" fill="#000" stroke="#000">30</text>
<rect x="242" y="457" width="1" height="3" fill="#808080"/>
<text x="242.5" y="477" text-anchor="middle" class="num" fill="#000" stroke="#000">31</text>
<rect x="284" y="457" width="1" height="3" fill="#808080"/>
<text x="284.5" y="477" text-anchor="middle" class="num" fill="#000" stroke="#000">1</text>
<rect x="319" y="457" width="1" height="3" fill="#808080"/>
<text x="319.5" y="477" text-anchor="middle" class="num" fill="#000" stroke="#000">5</text>
<rect x="361" y="457" width="1" height="3" fill="#808080"/>
<text x="361.5" y="477" text-anchor="middle" class="num" fill="#000" stroke="#000">6</text>
<rect x="403" y="457" width="1" height="3" fill="#808080"/>
<text x="403.5" y="477" text-anchor="middle" class="num" fill="#000" stroke="#000">7</text>
<rect x="445" y="457" width="1" height="3" fill="#808080"/>
<text x="445.5" y="477" text-anchor="middle" class="num" fill="#000" stroke="#000">8</text>
<rect x="487" y="457" width="1" height="3" fill="#808080"/>
<text x="487.5" y="477" text-anchor="middle" class="num" fill="#000" stroke="#000">9</text>
<rect x="529" y="457" width="1" height="3" fill="#808080"/>
<text x="529.5" y="477" text-anchor="middle" class="num" fill="#000" stroke="#000">12</text>
<rect x="571" y="457" width="1" height="3" fill="#808080"/>
<text x="571.5" y="477" text-anchor="middle" class="num" fill="#000" stroke="#000">13</text>
<rect x="613" y="457" width="1" height="3" fill="#808080"/>
<text x="613.5" y="477" text-anchor="middle" class="num" fill="#000" stroke="#000">14</text>
<rect x="655" y="457" width="1" height="3" fill="#808080"/>
<text x="655.5" y="477" text-anchor="middle" class="num" fill="#000" stroke="#000">15</text>
<rect x="697" y="457" width="1" height="3" fill="#808080"/>
<text x="697.5" y="477" text-anchor="middle" class="num" fill="#000" stroke="#000">16</text>
<rect x="739" y="457" width="1" height="3" fill="#808080"/>
<text x="739.5" y="477" text-anchor="middle" class="num" fill="#000" stroke="#000">19</text>
<rect x="781" y="457" width="1" height="3" fill="#808080"/>
<text x="781.5" y="477" text-anchor="middle" class="num" fill="#000" stroke="#000">20</text>
<rect x="275" y="456" width="1" height="23" fill="#808080"/>
<rect x="10" y="449" width="61" height="16" fill="#84A5C6"/>
<text x="16" y="461" class="mon" fill="#fff" stroke="#fff">Дек 2008</text>
<rect x="276" y="449" width="60" height="16" fill="#84A5C6"/>
<text x="281" y="461" class="mon" fill="#fff" stroke="#fff">Янв 2009</text>
<g class="tt" fill="#fff" stroke="#fff"><text x="7" y="12" letter-spacing="0.2">График EUR /USD</text><text x="120" y="12" letter-spacing="0.3">4 ЧАСА</text><text x="167" y="12" letter-spacing="0.55">[DEBUGSTRATEGY]</text></g>
</svg>
</body></html>
